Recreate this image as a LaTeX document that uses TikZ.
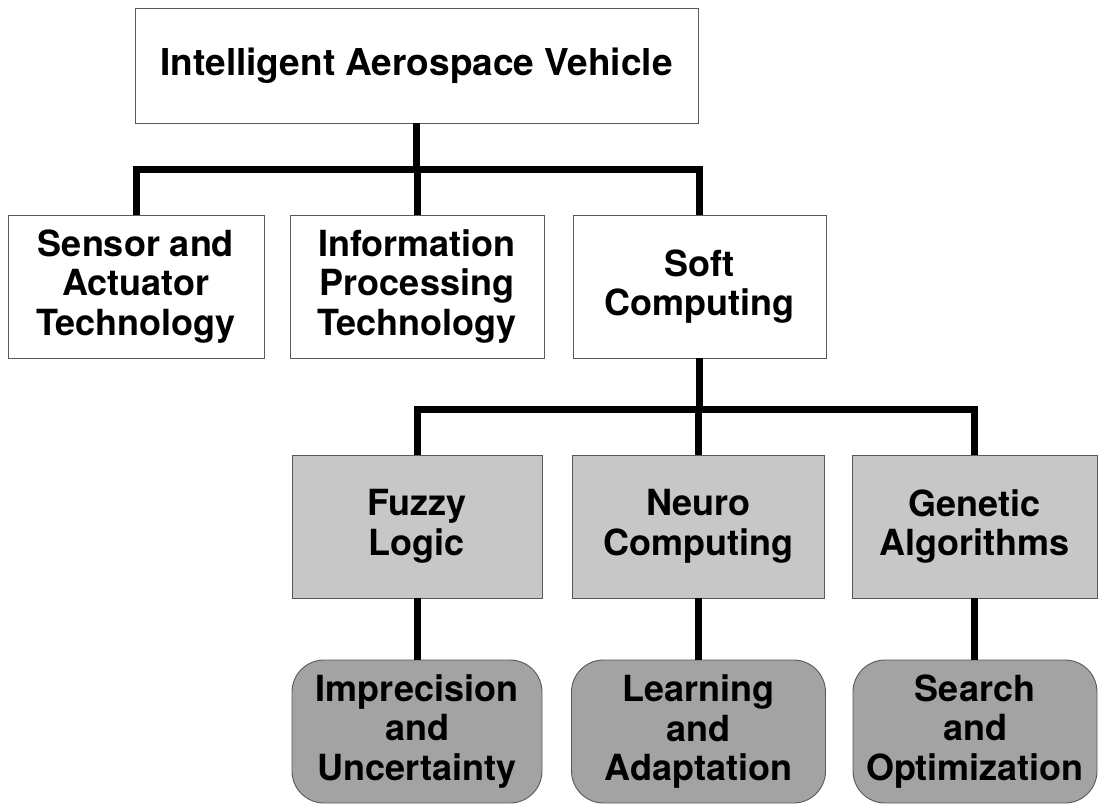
\documentclass[tikz,border=0pt]{standalone}
\usepackage{fontspec}
\setmainfont{TeX Gyre Heros}
\begin{document}
\begin{tikzpicture}[x=1pt,y=-1pt,
  box/.style={draw=black!65, line width=0.9pt, inner sep=0pt, align=center,
    minimum height=143pt, font=\fontsize{36}{39.5}\selectfont\bfseries},
  plainbox/.style={box, fill=white},
  greybox/.style={box, fill=black!22},
  roundbox/.style={box, fill=black!36, rounded corners=32pt},
  conn/.style={line width=7pt, black}]
\useasboundingbox (0,0) rectangle (1099,806);

% root
\node[plainbox, minimum width=563pt, minimum height=115pt,
      font=\fontsize{37}{40}\selectfont\bfseries] (root) at (416.5,65.5)
  {Intelligent Aerospace Vehicle};

% second level
\node[plainbox, minimum width=256pt] (sensor) at (136,286.5)
  {Sensor and\\Actuator\\Technology};
\node[plainbox, minimum width=254pt] (info) at (417,286.5)
  {Information\\Processing\\Technology};
\node[plainbox, minimum width=253pt] (soft) at (699.5,286.5)
  {Soft\\Computing};

% soft computing branches
\node[greybox, minimum width=250pt] (fuzzy) at (417,526.5)
  {Fuzzy\\Logic};
\node[greybox, minimum width=252pt] (neuro) at (698.5,526.5)
  {Neuro\\Computing};
\node[greybox, minimum width=245pt] (genetic) at (974.5,526.5)
  {Genetic\\Algorithms};

% properties
\node[roundbox, minimum width=250pt] (impr) at (417,731.5)
  {Imprecision\\and\\Uncertainty};
\node[roundbox, minimum width=254pt] (learn) at (698.5,731.5)
  {Learning\\and\\Adaptation};
\node[roundbox, minimum width=244pt] (search) at (975,731.5)
  {Search\\and\\Optimization};

% bus lines
\coordinate (busA) at (0,169);
\coordinate (busB) at (0,409);

\draw[conn] (sensor.north) -- (sensor.north |- busA) -- (soft.north |- busA) -- (soft.north);
\draw[conn] (root.south) -- (root.south |- busA);
\draw[conn] (info.north) -- (info.north |- busA);

\draw[conn] (fuzzy.north) -- (fuzzy.north |- busB) -- (genetic.north |- busB) -- (genetic.north);
\draw[conn] (soft.south) -- (soft.south |- busB);
\draw[conn] (neuro.north) -- (neuro.north |- busB);

\draw[conn] (fuzzy.south) -- (fuzzy.south |- impr.north);
\draw[conn] (neuro.south) -- (neuro.south |- learn.north);
\draw[conn] (genetic.south) -- (genetic.south |- search.north);
\end{tikzpicture}
\end{document}
